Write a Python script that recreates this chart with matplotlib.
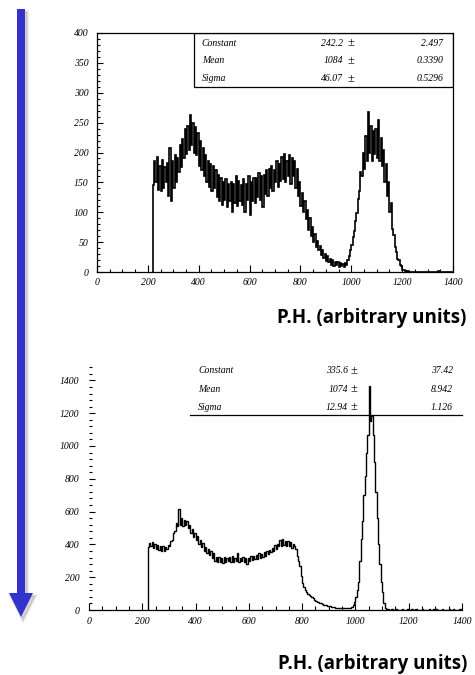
import matplotlib.pyplot as plt
import numpy as np
from matplotlib.patches import Polygon, Rectangle
from matplotlib.ticker import MultipleLocator


# -------------------------------------------------
# DATA  (pulse-height spectra, 5-unit bins from 220)
# -------------------------------------------------

bin_start = 220
bin_width = 5

top_counts = [
    145, 185, 150, 192, 138, 178, 135, 188, 140, 175,   # 220
    150, 182, 128, 208, 118, 185, 140, 196, 150, 190,   # 270
    168, 212, 175, 222, 190, 240, 198, 245, 205, 262,   # 320
    212, 250, 200, 242, 195, 232, 178, 220, 170, 208,   # 370
    160, 195, 150, 185, 142, 180, 135, 178, 140, 170,   # 420
    125, 162, 118, 158, 112, 150, 120, 155, 108, 148,   # 470
    118, 150, 100, 148, 115, 160, 110, 152, 118, 145,   # 520
    112, 155, 100, 148, 120, 160, 95, 150, 118, 158,    # 570
    115, 158, 125, 165, 120, 160, 108, 162, 130, 170,   # 620
    128, 172, 140, 178, 135, 170, 150, 185, 142, 180,   # 670
    152, 192, 155, 198, 150, 185, 160, 196, 148, 190,   # 720
    160, 185, 140, 172, 128, 150, 110, 132, 100, 118,   # 770
    88, 104, 70, 90, 60, 76, 50, 64, 42, 52,            # 820
    36, 44, 28, 36, 24, 30, 18, 26, 16, 22,             # 870
    12, 20, 10, 17, 12, 16, 8, 15, 10, 14,              # 920
    8, 15, 12, 20, 26, 36, 45, 58, 68, 85,              # 970
    98, 122, 135, 168, 160, 200, 172, 228, 185, 268,    # 1020
    200, 245, 185, 236, 198, 240, 190, 255, 185, 225,   # 1070
    178, 205, 150, 180, 128, 150, 100, 115, 72, 62,     # 1120
    42, 34, 22, 20, 12, 10, 4, 3, 1, 0,                 # 1170
    1, 0, 0, 0, 0, 0, 0, 0, 0, 0,                       # 1220
    0, 0, 0, 0, 0, 0, 0, 0, 0, 0,                       # 1270
    0, 0, 0, 0, 2, 0, 0, 0, 0, 0,                       # 1320
    0, 0, 0, 0, 0, 0,                                   # 1370
]

bottom_counts = [
    384, 410, 388, 412, 380, 405, 372, 398, 368, 390,   # 220
    362, 388, 360, 385, 372, 398, 388, 420, 428, 470,   # 270
    480, 528, 510, 615, 520, 558, 515, 550, 520, 540,   # 320
    500, 520, 470, 492, 445, 468, 425, 450, 405, 428,   # 370
    385, 408, 362, 385, 348, 372, 335, 358, 320, 345,   # 420
    300, 325, 290, 322, 292, 318, 288, 325, 295, 318,   # 470
    298, 322, 290, 328, 295, 320, 300, 345, 295, 320,   # 520
    298, 325, 292, 320, 282, 318, 296, 328, 305, 332,   # 570
    310, 338, 308, 345, 318, 342, 322, 352, 330, 358,   # 620
    340, 368, 352, 378, 360, 395, 372, 402, 390, 425,   # 670
    392, 432, 395, 420, 388, 422, 392, 415, 380, 400,   # 720
    390, 370, 330, 300, 270, 210, 165, 140, 125, 110,   # 770
    100, 92, 85, 78, 72, 60, 55, 50, 48, 45,            # 820
    40, 36, 32, 30, 28, 26, 24, 22, 20, 18,             # 870
    16, 15, 14, 13, 12, 12, 11, 12, 12, 13,             # 920
    12, 14, 15, 18, 30, 50, 80, 120, 170, 300,          # 970
    430, 540, 700, 820, 960, 1070, 1365, 1150, 1180, 1070,  # 1020
    900, 720, 560, 400, 280, 170, 110, 40, 12, 4,       # 1070
    6, 2, 0, 4, 0, 0, 8, 0, 3, 0,                       # 1120
    0, 5, 0, 2, 0, 9, 0, 0, 4, 0,                       # 1170
    0, 6, 0, 0, 3, 0, 7, 0, 0, 2,                       # 1220
    0, 5, 0, 0, 8, 0, 4, 0, 0, 3,                       # 1270
    0, 6, 0, 2, 0, 0, 5, 0, 0, 7,                       # 1320
    0, 3, 0, 0, 4, 0,                                   # 1370
]

fit_names = ["Constant", "Mean", "Sigma"]

top_fit_values = ["242.2", "1084", "46.07"]
top_fit_errors = ["2.497", "0.3390", "0.5296"]

bottom_fit_values = ["335.6", "1074", "12.94"]
bottom_fit_errors = ["37.42", "8.942", "1.126"]

x_label = "P.H. (arbitrary units)"

tick_font = "Liberation Serif"


# -------------------------------------------------
# FIGURE
# -------------------------------------------------

W, H = 475, 675
fig = plt.figure(figsize=(W / 100, H / 100), dpi=100)
fig.patch.set_facecolor("white")

# overlay in pixel units for the arrow and the captions
overlay = fig.add_axes([0, 0, 1, 1], zorder=-1)
overlay.set_xlim(0, W)
overlay.set_ylim(H, 0)
overlay.axis("off")

ax_top = fig.add_axes([97 / W, 1 - 272 / H, 356 / W, 239 / H])
ax_bot = fig.add_axes([89 / W, 1 - 610 / H, 373 / W, 246 / H])


def style_ticks(ax):
    for label in ax.get_xticklabels() + ax.get_yticklabels():
        label.set_fontfamily(tick_font)
        label.set_fontstyle("italic")
        label.set_fontsize(7)


def fit_rows(ax, values, errors, ys, x_name, x_val, x_pm, x_err):
    for name, val, err, y in zip(fit_names, values, errors, ys):
        kw = dict(transform=ax.transAxes, fontfamily=tick_font,
                  fontstyle="italic", fontsize=7, va="center")
        ax.text(x_name, y, name, ha="left", **kw)
        ax.text(x_val, y, val, ha="right", **kw)
        ax.text(x_err, y, err, ha="right", **kw)
        ax.text(x_pm, y, "\u00b1", ha="center", transform=ax.transAxes,
                fontfamily=tick_font, fontsize=9, va="center")


# -------------------------------------------------
# TOP SPECTRUM
# -------------------------------------------------

top_edges = bin_start + bin_width * np.arange(len(top_counts) + 1)
ax_top.stairs(top_counts, top_edges, baseline=0, color="black", lw=1.2)

ax_top.set_xlim(0, 1400)
ax_top.set_ylim(0, 400)
ax_top.xaxis.set_major_locator(MultipleLocator(200))
ax_top.xaxis.set_minor_locator(MultipleLocator(50))
ax_top.yaxis.set_major_locator(MultipleLocator(50))
ax_top.yaxis.set_minor_locator(MultipleLocator(10))

ax_top.tick_params(which="both", direction="in", top=False, right=False,
                   width=0.8, colors="black")
ax_top.tick_params(axis="x", which="major", length=5, pad=4)
ax_top.tick_params(axis="x", which="minor", length=2.5)
ax_top.tick_params(axis="y", which="major", length=4, pad=6)
ax_top.tick_params(axis="y", which="minor", length=2)
for spine in ax_top.spines.values():
    spine.set_linewidth(0.9)
style_ticks(ax_top)

# fit results box
ax_top.add_patch(Rectangle((0.2725, 0.774), 0.7275, 0.226,
                           transform=ax_top.transAxes, fill=False,
                           lw=0.9, color="black"))
fit_rows(ax_top, top_fit_values, top_fit_errors, [0.958, 0.883, 0.808],
         0.294, 0.691, 0.713, 0.972)


# -------------------------------------------------
# BOTTOM SPECTRUM
# -------------------------------------------------

bottom_edges = bin_start + bin_width * np.arange(len(bottom_counts) + 1)
ax_bot.stairs(bottom_counts, bottom_edges, baseline=0, color="black", lw=1.0)

ax_bot.set_xlim(0, 1400)
ax_bot.set_ylim(0, 1500)
ax_bot.xaxis.set_major_locator(MultipleLocator(200))
ax_bot.xaxis.set_minor_locator(MultipleLocator(50))
ax_bot.yaxis.set_major_locator(MultipleLocator(200))
ax_bot.yaxis.set_minor_locator(MultipleLocator(40))

for side in ["top", "right", "left"]:
    ax_bot.spines[side].set_visible(False)
ax_bot.spines["bottom"].set_linewidth(0.9)

ax_bot.tick_params(which="both", direction="in", top=False, right=False,
                   width=0.8, colors="black")
ax_bot.tick_params(axis="x", which="major", length=5, pad=5)
ax_bot.tick_params(axis="x", which="minor", length=3)
ax_bot.tick_params(axis="y", which="major", length=4.5, pad=7)
ax_bot.tick_params(axis="y", which="minor", length=2)
style_ticks(ax_bot)

ax_bot.plot([0.2715, 1.0], [0.793, 0.793], transform=ax_bot.transAxes,
            color="black", lw=0.9, clip_on=False)
fit_rows(ax_bot, bottom_fit_values, bottom_fit_errors, [0.973, 0.897, 0.824],
         0.293, 0.694, 0.710, 0.976)


# -------------------------------------------------
# ARROW AND CAPTIONS
# -------------------------------------------------

arrow_pts = [(17, 9), (25, 9), (25, 593), (33, 593), (21, 617),
             (9, 593), (17, 593)]
shadow_pts = [(x + 2, y + 3) for x, y in arrow_pts]

overlay.add_patch(Polygon(shadow_pts, closed=True, color="#999999",
                          alpha=0.35, lw=2))
overlay.add_patch(Polygon(arrow_pts, closed=True, color="#3333CC", lw=0))

overlay.text(277, 318, x_label, fontfamily="Open Sans", fontweight="bold",
             fontsize=13.5, ha="left", va="center")
overlay.text(278, 664, x_label, fontfamily="Open Sans", fontweight="bold",
             fontsize=13.5, ha="left", va="center")

fig.savefig("out.png", dpi=100)
